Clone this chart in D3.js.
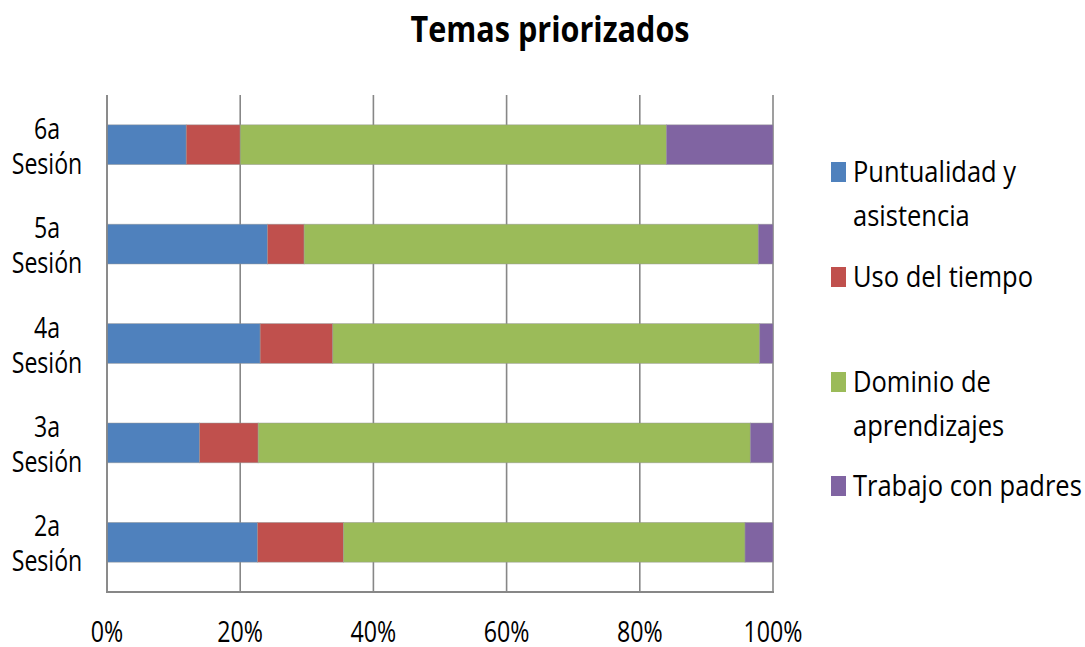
<!DOCTYPE html>
<html>
<head>
<meta charset="utf-8">
<script src="https://cdn.jsdelivr.net/npm/d3@7"></script>
<style>
  html, body { margin: 0; padding: 0; background: #fff; }
  svg { display: block; }
  text { font-family: "Open Sans", "DejaVu Sans", sans-serif; fill: #000; }
</style>
</head>
<body>
<svg id="chart" width="1085" height="647"></svg>
<script>
// Sessions, listed top to bottom
const sessions = ["6a Sesión", "5a Sesión", "4a Sesión", "3a Sesión", "2a Sesión"];

// Share of each topic per session (percent)
const puntualidad = [11.9, 24.1, 23.0, 13.9, 22.6];
const usoTiempo   = [8.1, 5.5, 10.9, 8.8, 12.9];
const dominio     = [64.0, 68.2, 64.1, 73.9, 60.3];
const trabajo     = [16.0, 2.2, 2.0, 3.4, 4.2];

const seriesNames = ["Puntualidad y asistencia", "Uso del tiempo", "Dominio de aprendizajes", "Trabajo con padres"];
const legendLines = [["Puntualidad y", "asistencia"], ["Uso del tiempo"], ["Dominio de", "aprendizajes"], ["Trabajo con padres"]];
const tickLabels = ["0%", "20%", "40%", "60%", "80%", "100%"];
const colors = ["#4F81BD", "#C0504D", "#9BBB59", "#8064A2"];

const seriesValues = [puntualidad, usoTiempo, dominio, trabajo];
const rows = sessions.map((s, i) => {
  const r = { session: s };
  seriesNames.forEach((n, k) => { r[n] = seriesValues[k][i]; });
  return r;
});

const svg = d3.select("#chart");

const plot = { left: 107, right: 773, top: 95, bottom: 592 };

const x = d3.scaleLinear().domain([0, 1]).range([plot.left, plot.right]);
const y = d3.scaleBand().domain(sessions).range([plot.top, plot.bottom])
  .paddingInner(0.6).paddingOuter(0.3);
const color = d3.scaleOrdinal().domain(seriesNames).range(colors);

const stacked = d3.stack().keys(seriesNames).offset(d3.stackOffsetExpand)(rows);

// condensed text helper: tx,ty are the anchor position
function ctext(sel, tx, ty, str, size, anchor, sx, weight) {
  return sel.append("text")
    .attr("transform", `translate(${tx},${ty}) scale(${sx},1)`)
    .attr("text-anchor", anchor)
    .attr("font-size", size)
    .attr("font-weight", weight || "normal")
    .text(str);
}

// Title
ctext(svg, 550, 42, "Temas priorizados", 36, "middle", 0.85, "bold");

// Vertical gridlines
const ticks = d3.range(0, 1.0001, 0.2);
svg.append("g").selectAll("line").data(ticks).join("line")
  .attr("x1", d => x(d)).attr("x2", d => x(d))
  .attr("y1", plot.top).attr("y2", plot.bottom)
  .attr("stroke", "#878787").attr("stroke-width", 1.6);

// Bars
svg.append("g").selectAll("g").data(stacked).join("g")
  .attr("fill", d => color(d.key))
  .selectAll("rect").data(d => d).join("rect")
  .attr("x", d => x(d[0]))
  .attr("width", d => x(d[1]) - x(d[0]))
  .attr("y", d => y(d.data.session))
  .attr("height", y.bandwidth())
  .attr("stroke", "rgba(150,150,150,0.6)")
  .attr("stroke-width", 0.8);

// Axis lines (left and bottom)
svg.append("line").attr("x1", plot.left).attr("x2", plot.left)
  .attr("y1", plot.top).attr("y2", plot.bottom)
  .attr("stroke", "#878787").attr("stroke-width", 1.6);
svg.append("line").attr("x1", plot.left - 1).attr("x2", plot.right + 1)
  .attr("y1", plot.bottom).attr("y2", plot.bottom)
  .attr("stroke", "#878787").attr("stroke-width", 2.2);

// X tick labels
const xl = svg.append("g");
ticks.forEach((t, i) => ctext(xl, x(t), 642, tickLabels[i], 29, "middle", 0.8));

// Category labels (two lines each)
const yl = svg.append("g");
sessions.forEach(s => {
  const parts = s.split(" ");
  const cy = y(s) + y.bandwidth() / 2;
  ctext(yl, 47, cy - 6, parts[0], 30, "middle", 0.77);
  ctext(yl, 47, cy + 29, parts[1], 30, "middle", 0.77);
});

// Legend
const legendTops = [162, 267, 372, 476];
const lg = svg.append("g");
seriesNames.forEach((n, i) => {
  const top = legendTops[i];
  lg.append("rect").attr("x", 831).attr("y", top).attr("width", 15).attr("height", 20)
    .attr("fill", color(n));
  legendLines[i].forEach((line, j) => {
    ctext(lg, 853, top + 20 + j * 44, line, 30, "start", 0.85);
  });
});
</script>
</body>
</html>
